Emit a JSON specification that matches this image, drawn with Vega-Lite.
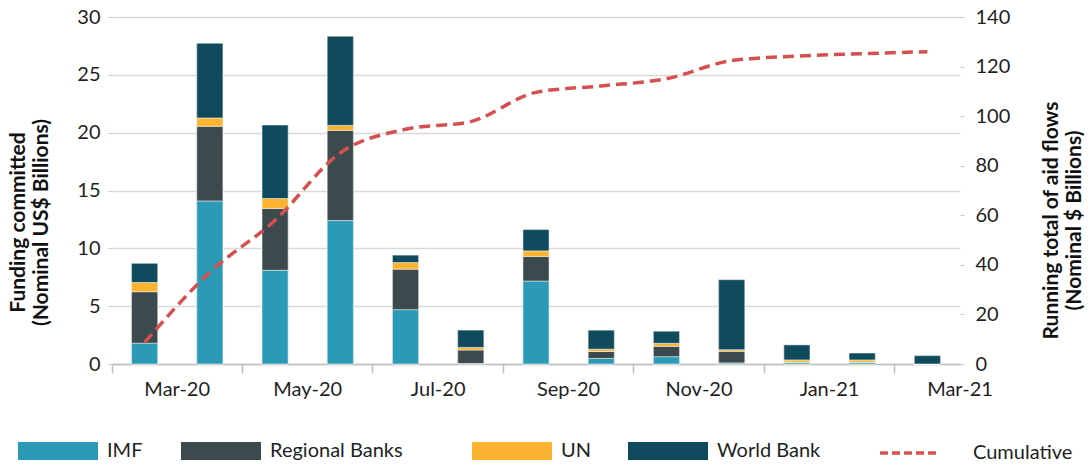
{
  "$schema": "https://vega.github.io/schema/vega-lite/v6.json",
  "width": 848,
  "height": 347,
  "autosize": {"type": "none"},
  "padding": {"left": 112, "top": 17, "right": 132, "bottom": 103},
  "config": {
    "font": "Lato",
    "view": {"stroke": null},
    "axis": {
      "labelFont": "Lato",
      "labelFontSize": 20,
      "labelColor": "#1f1f1f",
      "titleFont": "Lato",
      "titleFontSize": 21,
      "titleFontWeight": "bold",
      "titleColor": "#111111"
    },
    "legend": {
      "labelFont": "Lato",
      "labelFontSize": 20,
      "labelColor": "#1f1f1f"
    }
  },
  "datasets": {
    "bars": [
      {"month": "Mar-20", "source": "IMF", "value": 1.8},
      {"month": "Mar-20", "source": "Regional Banks", "value": 4.45},
      {"month": "Mar-20", "source": "UN", "value": 0.8},
      {"month": "Mar-20", "source": "World Bank", "value": 1.65},
      {"month": "Apr-20", "source": "IMF", "value": 14.1},
      {"month": "Apr-20", "source": "Regional Banks", "value": 6.45},
      {"month": "Apr-20", "source": "UN", "value": 0.72},
      {"month": "Apr-20", "source": "World Bank", "value": 6.45},
      {"month": "May-20", "source": "IMF", "value": 8.1},
      {"month": "May-20", "source": "Regional Banks", "value": 5.35},
      {"month": "May-20", "source": "UN", "value": 0.86},
      {"month": "May-20", "source": "World Bank", "value": 6.35},
      {"month": "Jun-20", "source": "IMF", "value": 12.4},
      {"month": "Jun-20", "source": "Regional Banks", "value": 7.8},
      {"month": "Jun-20", "source": "UN", "value": 0.43},
      {"month": "Jun-20", "source": "World Bank", "value": 7.7},
      {"month": "Jul-20", "source": "IMF", "value": 4.7},
      {"month": "Jul-20", "source": "Regional Banks", "value": 3.5},
      {"month": "Jul-20", "source": "UN", "value": 0.57},
      {"month": "Jul-20", "source": "World Bank", "value": 0.64},
      {"month": "Aug-20", "source": "IMF", "value": 0.05},
      {"month": "Aug-20", "source": "Regional Banks", "value": 1.16},
      {"month": "Aug-20", "source": "UN", "value": 0.22},
      {"month": "Aug-20", "source": "World Bank", "value": 1.5},
      {"month": "Sep-20", "source": "IMF", "value": 7.17},
      {"month": "Sep-20", "source": "Regional Banks", "value": 2.13},
      {"month": "Sep-20", "source": "UN", "value": 0.48},
      {"month": "Sep-20", "source": "World Bank", "value": 1.84},
      {"month": "Oct-20", "source": "IMF", "value": 0.48},
      {"month": "Oct-20", "source": "Regional Banks", "value": 0.6},
      {"month": "Oct-20", "source": "UN", "value": 0.2},
      {"month": "Oct-20", "source": "World Bank", "value": 1.64},
      {"month": "Nov-20", "source": "IMF", "value": 0.63},
      {"month": "Nov-20", "source": "Regional Banks", "value": 0.9},
      {"month": "Nov-20", "source": "UN", "value": 0.26},
      {"month": "Nov-20", "source": "World Bank", "value": 1.04},
      {"month": "Dec-20", "source": "IMF", "value": 0.1},
      {"month": "Dec-20", "source": "Regional Banks", "value": 1.0},
      {"month": "Dec-20", "source": "UN", "value": 0.14},
      {"month": "Dec-20", "source": "World Bank", "value": 6.05},
      {"month": "Jan-21", "source": "IMF", "value": 0.15},
      {"month": "Jan-21", "source": "Regional Banks", "value": 0.0},
      {"month": "Jan-21", "source": "UN", "value": 0.2},
      {"month": "Jan-21", "source": "World Bank", "value": 1.3},
      {"month": "Feb-21", "source": "IMF", "value": 0.15},
      {"month": "Feb-21", "source": "Regional Banks", "value": 0.0},
      {"month": "Feb-21", "source": "UN", "value": 0.2},
      {"month": "Feb-21", "source": "World Bank", "value": 0.6},
      {"month": "Mar-21", "source": "IMF", "value": 0.0},
      {"month": "Mar-21", "source": "Regional Banks", "value": 0.0},
      {"month": "Mar-21", "source": "UN", "value": 0.0},
      {"month": "Mar-21", "source": "World Bank", "value": 0.72}
    ],
    "cum": [
      {"month": "Mar-20", "cumulative": 8.7},
      {"month": "Apr-20", "cumulative": 37.0},
      {"month": "May-20", "cumulative": 58.0},
      {"month": "Jun-20", "cumulative": 85.2},
      {"month": "Jul-20", "cumulative": 94.7},
      {"month": "Aug-20", "cumulative": 97.8},
      {"month": "Sep-20", "cumulative": 109.6},
      {"month": "Oct-20", "cumulative": 112.2},
      {"month": "Nov-20", "cumulative": 115.1},
      {"month": "Dec-20", "cumulative": 122.4},
      {"month": "Jan-21", "cumulative": 124.2},
      {"month": "Feb-21", "cumulative": 125.2},
      {"month": "Mar-21", "cumulative": 126.0}
    ]
  },
  "layer": [
    {
      "data": {"name": "bars"},
      "encoding": {
        "x": {
          "field": "month",
          "type": "ordinal",
          "scale": {
            "domain": ["Mar-20", "Apr-20", "May-20", "Jun-20", "Jul-20", "Aug-20", "Sep-20", "Oct-20", "Nov-20", "Dec-20", "Jan-21", "Feb-21", "Mar-21"],
            "paddingInner": 0,
            "paddingOuter": 0
          },
          "axis": {
            "title": null,
            "values": ["Mar-20", "May-20", "Jul-20", "Sep-20", "Nov-20", "Jan-21", "Mar-21"],
            "bandPosition": 0,
            "labelOffset": 32.6,
            "labelAngle": 0,
            "tickSize": 9,
            "tickColor": "#bfbfbf",
            "tickWidth": 1.5,
            "domainColor": "#bfbfbf",
            "domainWidth": 1.5,
            "labelPadding": 6,
            "grid": false
          }
        },
        "y": {
          "field": "value",
          "type": "quantitative",
          "stack": "zero",
          "scale": {"domain": [0, 30]},
          "axis": {
            "values": [0, 5, 10, 15, 20, 25, 30],
            "grid": true,
            "gridColor": "#d9d9d9",
            "gridWidth": 1.5,
            "domain": false,
            "tickSize": 4,
            "tickColor": "#c8c8c8",
            "labelPadding": 8,
            "title": ["Funding committed", "(Nominal US$ Billions)"],
            "titleAngle": 270,
            "titleBaseline": "top",
            "titleAlign": "center",
            "titleX": -105,
            "titleY": 205,
            "titleLineHeight": 23
          }
        },
        "order": {"field": "source", "type": "nominal", "sort": "ascending"}
      },
      "layer": [
        {
          "mark": {"type": "bar", "width": {"band": 0.4}, "stroke": "#ffffff", "strokeWidth": 0.5},
          "encoding": {
            "color": {
              "field": "source",
              "type": "nominal",
              "scale": {
                "domain": ["IMF", "Regional Banks", "UN", "World Bank"],
                "range": ["#2b9ab6", "#3c4a4d", "#fbb330", "#0f4b5c"]
              },
              "legend": {
                "orient": "none",
                "legendX": -94,
                "legendY": 394,
                "direction": "horizontal",
                "title": null,
                "values": ["IMF", "Regional Banks"],
                "symbolType": "M-1,-0.225H1V0.225H-1Z",
                "symbolSize": 6400,
                "symbolStrokeWidth": 0,
                "symbolOpacity": 1,
                "labelOffset": 9,
                "columnPadding": 38
              }
            }
          }
        },
        {
          "mark": {"type": "bar", "width": {"band": 0.4}, "stroke": "#ffffff", "strokeWidth": 0.5},
          "encoding": {
            "color": {
              "field": "source",
              "type": "nominal",
              "scale": {
                "domain": ["IMF", "Regional Banks", "UN", "World Bank"],
                "range": ["#2b9ab6", "#3c4a4d", "#fbb330", "#0f4b5c"]
              },
              "legend": {
                "orient": "none",
                "legendX": 360,
                "legendY": 394,
                "direction": "horizontal",
                "title": null,
                "values": ["UN", "World Bank"],
                "symbolType": "M-1,-0.225H1V0.225H-1Z",
                "symbolSize": 6400,
                "symbolStrokeWidth": 0,
                "symbolOpacity": 1,
                "labelOffset": 9,
                "columnPadding": 37
              }
            }
          }
        }
      ],
      "resolve": {"scale": {"color": "independent"}, "legend": {"color": "independent"}}
    },
    {
      "data": {"name": "cum"},
      "mark": {"type": "line", "interpolate": "monotone", "strokeDash": [11, 6], "strokeWidth": 3.5},
      "encoding": {
        "x": {"field": "month", "type": "ordinal"},
        "y": {
          "field": "cumulative",
          "type": "quantitative",
          "scale": {"domain": [0, 140]},
          "axis": {
            "orient": "right",
            "values": [0, 20, 40, 60, 80, 100, 120, 140],
            "grid": false,
            "domain": false,
            "tickSize": 4,
            "tickColor": "#c8c8c8",
            "labelPadding": 11,
            "title": ["Running total of aid flows", "(Nominal $ Billions)"],
            "titleAngle": 270,
            "titleBaseline": "top",
            "titleAlign": "center",
            "titleX": 80,
            "titleY": 203,
            "titleLineHeight": 23
          }
        },
        "stroke": {
          "datum": "Cumulative",
          "scale": {"domain": ["Cumulative"], "range": ["#d5504f"]},
          "legend": {
            "orient": "none",
            "legendX": 766,
            "legendY": 406,
            "title": null,
            "symbolType": "stroke",
            "symbolSize": 3136,
            "symbolDash": [8, 4],
            "symbolStrokeWidth": 3.5,
            "labelOffset": 35
          }
        }
      }
    }
  ],
  "resolve": {"scale": {"y": "independent"}}
}
